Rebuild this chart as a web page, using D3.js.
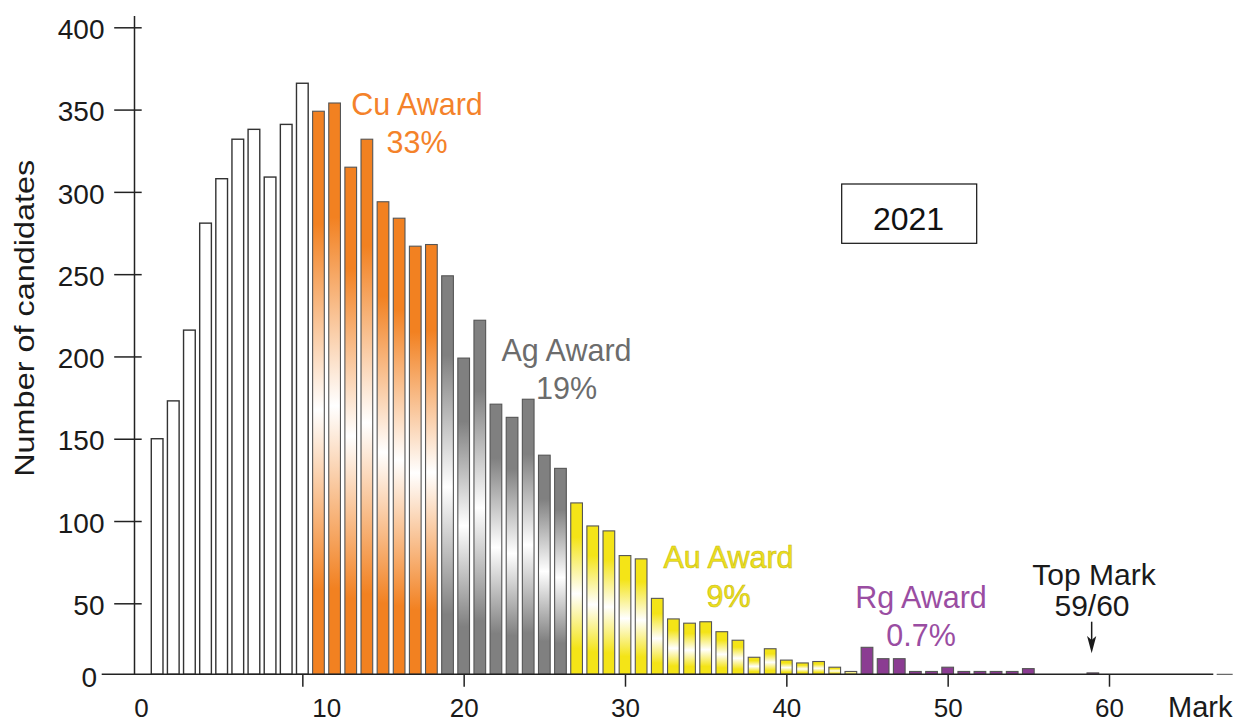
<!DOCTYPE html>
<html><head><meta charset="utf-8">
<script src="https://cdn.jsdelivr.net/npm/d3@7"></script>
<style>
body{margin:0;background:#fff}
svg{display:block}
text{font-family:"Liberation Sans",Arial,Helvetica,sans-serif}
</style>
</head><body>
<svg id="chart" width="1241" height="724"></svg>
<script>
// ---------- DATA ----------
const marks = [1,2,3,4,5,6,7,8,9,10,11,12,13,14,15,16,17,18,19,20,
  21,22,23,24,25,26,27,28,29,30,31,32,33,34,35,36,37,38,39,40,
  41,42,43,44,45,46,47,48,49,50,51,52,53,54,55,56,57,58,59];
const counts = [150,173,216,281,308,332,338,309,341,366,
  349,354,315,332,294,284,267,268,
  249,199,222,171,163,174,140,132,
  111,97,94,79,77,53,39,36,37,30,24,12,18,10,8,9,5,2,
  19,11,11,2,2,5,2,2,2,2,4,0,0,0,1];
const awardKeys = ["none","Cu","Ag","Au","Rg"];
const awardFirstMark = [1,11,19,27,45];
const awardLabels = ["Cu Award","Ag Award","Au Award","Rg Award"];
const awardPercents = ["33%","19%","9%","0.7%"];
const yTickValues = [0,50,100,150,200,250,300,350,400];
const xTickValues = [0,10,20,30,40,50,60];
const topMarkLabel = ["Top Mark","59/60"];
const topMark = 59;
const yearLabel = "2021";
const xTitle = "Mark";
const yTitle = "Number of candidates";

// ---------- STYLE ----------
const colors = {none:"#ffffff", Cu:"#f28121", Ag:"#808080", Au:"#f4e417", Rg:"#8b3c92"};
const textColors = {Cu:"#f4822a", Ag:"#6c6c6c", Au:"#ede01c", Rg:"#9a4da2"};

const svg = d3.select("#chart");

// scales (y axis of the original is compressed between 0 and 50)
const x = d3.scaleLinear().domain([0,60]).range([141,1109]);
const y = d3.scaleLinear().domain([0,50,400]).range([674.3,603.3,27.3]);

function awardOf(m){
  let k = 0;
  for (let i=0;i<awardFirstMark.length;i++) if (m>=awardFirstMark[i]) k=i;
  return awardKeys[k];
}

// gradients
const defs = svg.append("defs");
["Cu","Ag","Au"].forEach(k=>{
  const g = defs.append("linearGradient").attr("id","g"+k)
    .attr("x1",0).attr("y1",0).attr("x2",0).attr("y2",1);
  [[0,colors[k]],[0.2,colors[k]],[0.53,"#ffffff"],[0.85,colors[k]],[1,colors[k]]]
    .forEach(([o,c])=>g.append("stop").attr("offset",o).attr("stop-color",c));
});

const data = marks.map((m,i)=>({mark:m, count:counts[i], award:awardOf(m)}))
  .filter(d=>d.count>0);

const bw = 11.7;
svg.append("g").selectAll("rect").data(data).join("rect")
  .attr("x", d=>x(d.mark)-bw/2)
  .attr("y", d=>y(d.count))
  .attr("width", bw)
  .attr("height", d=>y(0)-y(d.count))
  .attr("fill", d=> d.award==="none" ? "#ffffff" : (d.award==="Rg" ? colors.Rg : "url(#g"+d.award+")"))
  .attr("stroke", d=> d.award==="none" ? "#333333" : "#555555")
  .attr("stroke-width", d=> d.award==="none" ? 1.4 : 1.1);

// y axis
const yAxis = d3.axisLeft(y).tickValues(yTickValues).tickSize(27.5).tickPadding(9.7);
const gy = svg.append("g").attr("transform","translate(141.7,0)").call(yAxis);
gy.select(".domain").remove();
gy.attr("font-size",28).attr("font-family",'"Liberation Sans",Arial,sans-serif');
gy.selectAll(".tick line").attr("stroke","#222").attr("stroke-width",1.5);
gy.selectAll(".tick text").attr("fill","#1a1a1a").attr("dy","0.4em");
gy.selectAll(".tick").filter(d=>d===0).select("line").remove();
gy.selectAll(".tick").filter(d=>d===0).select("text").attr("x",-44.7).attr("dy","0.45em");

svg.append("line").attr("x1",134.5).attr("x2",134.5).attr("y1",16).attr("y2",y(0))
  .attr("stroke","#222").attr("stroke-width",1.5);

// x axis
const xAxis = d3.axisBottom(x).tickValues(xTickValues).tickSize(12.4).tickPadding(12.3);
const gx = svg.append("g").attr("transform","translate(0,"+y(0)+")").call(xAxis);
gx.select(".domain").remove();
gx.attr("font-size",26).attr("font-family",'"Liberation Sans",Arial,sans-serif');
gx.selectAll(".tick line").attr("stroke","#222").attr("stroke-width",1.5);
gx.selectAll(".tick text").attr("fill","#1a1a1a");
gx.selectAll(".tick").filter(d=>d===0).select("line").remove();
gx.selectAll(".tick").filter(d=>d===10).select("text").attr("dx",24);

svg.append("line").attr("x1",101.7).attr("x2",1213.3).attr("y1",y(0)).attr("y2",y(0))
  .attr("stroke","#222").attr("stroke-width",1.5);
svg.append("line").attr("x1",1216.7).attr("x2",1232.7).attr("y1",y(0)).attr("y2",y(0))
  .attr("stroke","#444").attr("stroke-width",1);

// axis titles
svg.append("text").attr("x",1168).attr("y",717).attr("font-size",29).attr("fill","#1a1a1a").text(xTitle);
svg.append("text").attr("transform","translate(33.5,318.3) rotate(-90)")
  .attr("text-anchor","middle").attr("font-size",28).attr("fill","#1a1a1a")
  .attr("textLength",317).attr("lengthAdjust","spacingAndGlyphs").text(yTitle);

// award labels
const labelPos = [[417,115,153],[566.5,360.7,399],[728.5,568.3,606.7],[921,608.3,646]];
["Cu","Ag","Au","Rg"].forEach((k,i)=>{
  const [lx,b1,b2] = labelPos[i];
  const t = svg.append("g").attr("font-size",30.5).attr("text-anchor","middle").attr("fill",textColors[k]);
  if (k==="Au") t.attr("stroke","#c9bb12").attr("stroke-width",0.6);
  t.append("text").attr("x",lx).attr("y",b1).text(awardLabels[i]);
  t.append("text").attr("x",lx).attr("y",b2).text(awardPercents[i]);
});

// top mark annotation
const tm = svg.append("g").attr("font-size",30).attr("text-anchor","middle").attr("fill","#1a1a1a");
tm.append("text").attr("x",1094).attr("y",585).text(topMarkLabel[0]);
tm.append("text").attr("x",1092).attr("y",616).text(topMarkLabel[1]);
const ax = x(topMark) - 1.2;
svg.append("line").attr("x1",ax).attr("x2",ax).attr("y1",621.7).attr("y2",642)
  .attr("stroke","#1a1a1a").attr("stroke-width",1.5);
svg.append("path").attr("d",`M${ax-4.6},636 L${ax},653.3 L${ax+4.6},636 L${ax},640 Z`)
  .attr("fill","#1a1a1a");

// year box
svg.append("rect").attr("x",841.7).attr("y",184).attr("width",135).attr("height",59.3)
  .attr("fill","#fff").attr("stroke","#111").attr("stroke-width",1.2);
svg.append("text").attr("x",908.5).attr("y",230).attr("text-anchor","middle")
  .attr("font-family","Lato, 'Open Sans', sans-serif").attr("font-size",32).attr("fill","#111").text(yearLabel);
</script>
</body></html>
